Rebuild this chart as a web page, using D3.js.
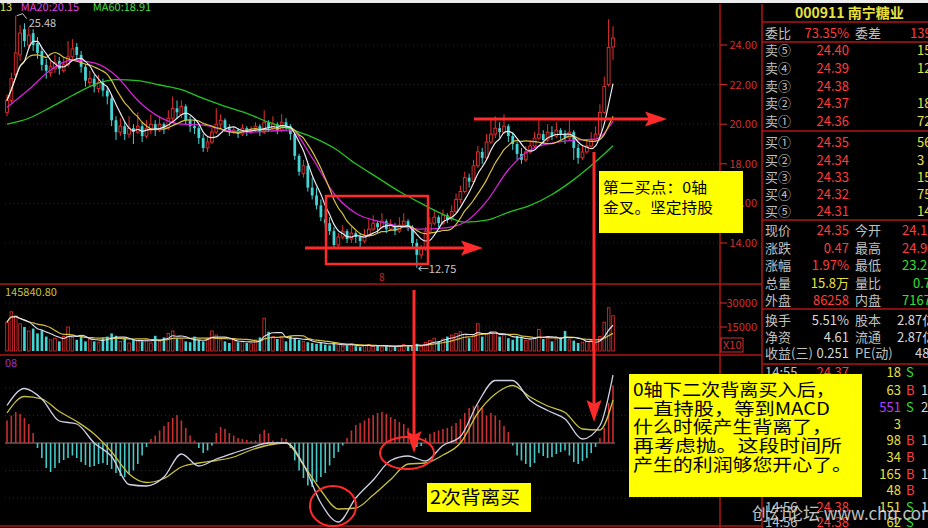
<!DOCTYPE html>
<html><head><meta charset="utf-8">
<script src="https://cdn.jsdelivr.net/npm/d3@7/dist/d3.min.js"></script>
<style>html,body{margin:0;padding:0;background:#000;overflow:hidden}svg{display:block}</style>
</head><body>
<svg id="c" width="928" height="528"></svg>
<script>
// ---------- DATA ----------
const opens=[20.6,21.2,22.5,23.5,24.8,24.0,24.6,24.1,23.7,23.0,
22.6,22.8,23.2,22.7,23.0,23.4,23.9,23.5,22.9,22.1,
22.3,21.8,22.1,21.7,21.3,20.2,19.6,19.9,19.5,19.8,
19.6,19.9,19.4,19.7,20.0,19.7,20.0,19.8,20.3,20.8,
20.5,20.9,20.2,19.9,19.8,19.3,18.8,19.1,19.6,20.0,
20.2,19.8,19.6,19.7,19.5,19.8,19.6,19.7,19.9,19.6,
20.1,19.8,20.0,19.7,20.1,19.9,19.5,18.4,17.5,17.9,
16.8,16.4,15.9,15.2,15.0,14.6,13.9,14.3,14.6,14.2,
14.5,14.3,14.1,14.4,14.7,15.0,14.8,15.1,14.7,14.9,
14.6,14.9,15.1,14.8,14.0,13.4,13.7,14.6,15.0,15.3,
15.0,15.4,15.2,15.6,16.2,16.6,17.3,17.1,17.9,18.6,
18.3,19.1,19.5,19.8,19.6,19.9,19.4,19.0,18.5,18.2,
18.6,18.9,19.3,19.5,19.2,19.6,19.4,19.7,19.5,19.3,
19.6,18.8,18.3,18.6,18.9,19.2,19.5,20.6,22.0,23.9];
const highs=[21.5,22.6,25.48,25.0,25.1,24.9,24.8,24.4,23.9,23.3,
23.2,23.5,23.4,23.4,24.2,24.3,24.1,23.7,23.0,22.7,
22.5,22.5,22.3,21.9,21.5,20.4,20.3,20.1,20.4,20.0,
20.6,20.1,20.2,20.5,20.2,20.4,20.1,20.7,21.4,21.2,
21.2,21.0,20.4,20.3,19.9,19.5,19.4,19.8,20.8,20.5,
20.3,20.0,19.9,19.8,20.0,19.9,19.9,20.1,20.0,20.7,
20.2,20.4,20.1,20.5,20.3,20.0,19.6,18.5,18.2,18.0,
17.3,16.8,16.2,15.7,15.3,14.8,14.5,14.9,14.7,14.8,
14.6,14.5,14.7,15.2,15.4,15.1,15.5,15.2,15.2,15.0,
15.3,15.5,15.2,14.9,14.2,13.9,14.8,15.3,15.7,15.4,
15.7,15.5,15.9,16.5,16.9,17.6,17.5,18.2,18.9,18.8,
19.5,20.3,20.4,20.1,20.5,20.0,19.6,19.1,18.8,18.9,
19.2,19.6,20.2,19.7,20.0,19.9,20.1,19.8,19.7,20.3,
19.7,19.0,18.9,19.2,19.6,19.9,21.0,22.4,25.3,24.95];
const lows=[20.4,21.0,22.3,23.2,23.9,23.8,23.7,23.3,22.7,22.3,
22.4,22.6,22.5,22.6,22.9,23.2,23.2,22.6,21.9,21.9,
21.6,21.6,21.4,21.0,19.9,19.2,19.4,19.2,19.3,19.0,
19.5,19.1,19.3,19.5,19.4,19.6,19.5,19.7,20.1,20.3,
20.3,20.0,19.6,19.5,19.0,18.6,18.6,19.0,19.5,19.8,
19.6,19.4,19.5,19.3,19.4,19.4,19.5,19.6,19.4,19.5,
19.6,19.7,19.5,19.6,19.7,19.2,18.2,17.4,17.3,16.6,
16.2,15.7,15.1,14.8,14.4,13.7,13.7,14.2,14.0,14.0,
14.0,13.8,14.0,14.3,14.6,14.5,14.7,14.5,14.6,14.4,
14.5,14.8,14.6,13.8,12.75,13.2,13.6,14.5,14.9,14.8,
14.9,15.0,15.1,15.5,16.0,16.5,16.8,17.0,17.8,18.0,
18.2,19.0,19.3,19.3,19.5,19.1,18.7,18.2,18.0,18.1,
18.5,18.8,19.2,19.0,19.1,19.2,19.3,19.2,19.0,19.2,
18.2,18.0,18.2,18.5,18.8,19.1,19.4,20.5,21.9,23.25];
const closes=[21.2,22.3,23.6,24.6,24.2,24.5,24.0,23.6,23.0,22.7,
22.9,23.1,22.8,23.0,23.4,23.8,23.5,22.9,22.2,22.3,
21.9,22.1,21.7,21.4,20.2,19.6,19.9,19.5,19.8,19.6,
19.9,19.4,19.8,20.0,19.7,20.0,19.8,20.3,20.8,20.6,
20.9,20.2,19.9,19.8,19.3,18.8,19.1,19.6,20.0,20.2,
19.8,19.6,19.7,19.5,19.8,19.6,19.7,19.9,19.6,20.1,
19.8,20.0,19.7,20.1,19.9,19.5,18.4,17.6,17.9,16.8,
16.4,15.9,15.3,15.0,14.6,13.9,14.3,14.6,14.2,14.5,
14.3,14.1,14.4,14.7,15.0,14.8,15.1,14.7,14.9,14.6,
14.9,15.1,14.8,14.0,13.4,13.7,14.6,15.0,15.3,15.0,
15.4,15.2,15.6,16.2,16.6,17.3,17.1,17.9,18.6,18.3,
19.1,19.5,19.8,19.6,19.9,19.4,19.0,18.5,18.2,18.6,
18.9,19.3,19.5,19.2,19.6,19.4,19.7,19.5,19.3,19.6,
18.8,18.3,18.6,18.9,19.2,19.5,20.6,21.9,23.88,24.35];
const volumes=[18000,24500,22000,17000,15000,12500,14000,11000,13000,9000,
7000,8000,6000,9000,15000,8500,7000,9500,6000,7500,
6000,5500,8000,9000,11000,9500,6000,8000,5000,7000,
6500,6000,7500,5000,9500,6000,8500,11000,12500,8000,
7000,6000,5500,9000,7000,6000,8000,12500,10000,7000,
6000,5000,7500,5500,6000,5000,4500,7000,8500,20500,
12000,9000,7500,8500,6000,9500,8000,7000,6000,5500,
5000,4500,5500,4000,3500,5000,4000,3000,3500,4500,
3000,2500,3500,4000,3000,3500,2500,3000,2800,3200,
3500,4000,3000,3500,4500,3000,5500,6500,8000,6000,
7500,9000,10000,11000,12000,10500,8000,10000,17000,9000,
10500,12000,11000,9000,10000,8000,7000,9500,8000,6500,
7000,8000,13500,7500,9000,6000,7500,8500,12500,7000,
6500,5000,5500,6000,6500,4500,9000,18000,27000,22000];
// MA20 / MA60, every 5th day
const maIdx=[0,5,10,15,20,25,30,35,40,45,50,55,60,65,70,75,80,85,90,95,100,105,110,115,120,125,130,135,139];
const ma20=[20.85,21.75,22.74,23.24,23.1,22.45,21.2,20.36,20.0,19.95,19.7,19.6,19.65,19.7,18.3,16.5,15.5,15.1,14.85,14.7,14.75,15.05,16.1,17.7,18.7,19.05,19.2,19.25,20.15];
const ma60=[20.0,20.3,20.85,21.45,22.0,22.25,22.2,21.98,21.75,21.3,20.9,20.55,20.1,19.75,19.35,18.8,18.0,17.3,16.6,16.0,15.45,15.05,15.15,15.55,15.9,16.45,17.2,18.1,18.91];
// MACD lines read every 4th day
const macdIdx=[0,4,8,12,16,20,24,28,32,36,40,44,48,52,56,60,64,68,72,76,80,84,88,92,96,100,104,108,112,116,120,124,128,132,136,139];
const dif=[0.75,1.09,0.88,0.44,0.38,0.0,-0.27,-0.83,-0.86,-0.68,-0.22,-0.46,-0.32,-0.2,-0.09,0.0,0.0,-0.43,-1.2,-1.58,-1.1,-0.74,-0.35,-0.26,-0.36,-0.05,0.13,0.8,1.25,1.25,0.85,0.65,0.48,0.08,0.35,1.36];
const dea=[0.6,0.93,0.88,0.63,0.43,0.18,-0.18,-0.62,-0.79,-0.71,-0.48,-0.4,-0.35,-0.28,-0.14,-0.04,0.0,-0.44,-0.95,-1.32,-1.3,-1.04,-0.73,-0.42,-0.4,-0.24,0.0,0.6,0.98,1.15,0.92,0.74,0.61,0.28,0.26,0.86];
const hist=[0.45,0.55,0.62,0.58,0.5,0.38,0.2,-0.1,-0.3,-0.5,
-0.58,-0.5,-0.4,-0.34,-0.3,-0.25,-0.3,-0.38,-0.44,-0.48,
-0.46,-0.42,-0.4,-0.44,-0.52,-0.6,-0.66,-0.68,-0.62,-0.55,
-0.42,-0.25,-0.08,0.08,0.15,0.25,0.34,0.42,0.5,0.56,
0.45,0.3,0.15,0.05,-0.1,-0.2,-0.15,-0.05,0.2,0.32,
0.28,0.2,0.15,0.1,0.08,0.06,0.04,0.05,0.18,0.26,
0.2,0.05,0.03,0.1,0.08,-0.1,-0.35,-0.55,-0.7,-0.85,
-0.88,-0.78,-0.68,-0.6,-0.45,-0.3,-0.18,-0.05,0.1,0.25,
0.36,0.4,0.45,0.5,0.56,0.6,0.62,0.58,0.52,0.48,
0.42,0.38,0.3,0.12,-0.08,-0.06,0.1,0.18,0.22,0.25,
0.28,0.3,0.34,0.4,0.48,0.6,0.7,0.74,0.76,0.7,
0.55,0.6,0.55,0.46,0.34,0.22,-0.05,-0.25,-0.35,-0.42,
-0.48,-0.4,-0.2,-0.26,-0.3,-0.28,-0.22,-0.18,-0.15,-0.25,
-0.38,-0.42,-0.36,-0.3,-0.2,-0.08,0.1,0.3,0.8,1.15];
const priceTicks=[24,22,20,18,16,14];
const volTicks=[30000,15000];
const macdGrid=[1.1,0.55,-0.55,-1.1];
const header=[["13","#e0e040"],["MA20:20.15","#e040e0"],["MA60:18.91","#40e040"]];
const stockTitle="000911 南宁糖业";
const sellRows=[["卖⑤","24.40","156"],["卖④","24.39","12"],["卖③","24.38",""],["卖②","24.37","18"],["卖①","24.36","72"]];
const buyRows=[["买①","24.35","563"],["买②","24.34","3"],["买③","24.33","152"],["买④","24.32","758"],["买⑤","24.31","146"]];
const quoteRows=[["现价","24.35","#ff3c3c","今开","24.12","#ff3c3c"],["涨跌","0.47","#ff3c3c","最高","24.95","#ff3c3c"],["涨幅","1.97%","#ff3c3c","最低","23.25","#30e030"],["总量","15.8万","#e8e040","量比","0.78","#30e030"],["外盘","86258","#ff3c3c","内盘","71672","#30e030"]];
const infoRows=[["换手","5.51%","股本","2.87亿"],["净资","4.61","流通","2.87亿"],["收益(三)","0.251","PE(动)","48.5"]];
const ticks=[["14:55","24.37","18","S",""],["14:55","24.37","63","B","1"],["14:55","24.37","551","S","2"],["14:55","24.37","3","",""],["14:55","24.37","98","B","1"],["14:55","24.37","34","B",""],["14:55","24.38","165","B","1"],["14:55","24.38","48","B",""],["14:56","24.38","151","S","1"],["14:56","24.38","62","S",""]];
const noteA=["第二买点：0轴","金叉。坚定持股"];
const noteB=["0轴下二次背离买入后，","一直持股，等到MACD","什么时候产生背离了，","再考虑抛。这段时间所","产生的利润够您开心了。"];
const noteC="2次背离买";

// ---------- DRAW ----------
const svg=d3.select("#c");
const F="'Noto Sans CJK SC','Noto Sans',sans-serif";
const RED="#ff2a2a", BORDER="#b01414", UP="#e83030", DN="#44d4d4";
svg.append("rect").attr("width",928).attr("height",528).attr("fill","#000");

const x=d3.scaleLinear().domain([0,closes.length-1]).range([7,613]);
const yP=d3.scaleLinear().domain([14,24]).range([243,45]);
const yV=d3.scaleLinear().domain([0,30000]).range([351,303]);
const yM=d3.scaleLinear().domain([0,1]).range([443,393]);

// grids
const g=svg.append("g").attr("stroke","#6a0c0c").attr("stroke-dasharray","1,3");
priceTicks.forEach(t=>g.append("line").attr("x1",5).attr("x2",720).attr("y1",yP(t)).attr("y2",yP(t)));
volTicks.forEach(t=>g.append("line").attr("x1",5).attr("x2",720).attr("y1",yV(t)).attr("y2",yV(t)));
macdGrid.forEach(t=>g.append("line").attr("x1",5).attr("x2",720).attr("y1",yM(t)).attr("y2",yM(t)));

// borders
const b=svg.append("g").attr("stroke",BORDER).attr("stroke-width",1.5);
[[0,284,762,284],[0,355,762,355],[0,526,762,526],[720,4,720,528],[762,4,762,528],
 [762,22,928,22],[762,42,928,42],[762,131,928,131],[762,220,928,220],[762,309,928,309],[762,364,928,364]]
 .forEach(l=>b.append("line").attr("x1",l[0]).attr("y1",l[1]).attr("x2",l[2]).attr("y2",l[3]));

// price axis
const ax=svg.append("g").attr("font-family",F).attr("font-size",11).attr("fill","#d03030");
priceTicks.forEach(t=>{
  ax.append("line").attr("x1",720).attr("x2",727).attr("y1",yP(t)).attr("y2",yP(t)).attr("stroke","#d03030");
  ax.append("text").attr("x",757).attr("y",yP(t)+4).attr("text-anchor","end").text(d3.format(".2f")(t));
});
volTicks.forEach(t=>{
  ax.append("line").attr("x1",720).attr("x2",727).attr("y1",yV(t)).attr("y2",yV(t)).attr("stroke","#d03030");
  ax.append("text").attr("x",757).attr("y",yV(t)+4).attr("text-anchor","end").text(t);
});
ax.append("rect").attr("x",721).attr("y",338).attr("width",22).attr("height",14).attr("fill","none").attr("stroke","#d03030");
ax.append("text").attr("x",723).attr("y",349).text("X10");

// candles
const cg=svg.append("g");
closes.forEach((c,i)=>{
  const o=opens[i], up=c>=o, col=up?UP:DN;
  cg.append("line").attr("x1",x(i)).attr("x2",x(i)).attr("y1",yP(highs[i])).attr("y2",yP(lows[i])).attr("stroke",col).attr("stroke-width",1);
  const y1=yP(Math.max(o,c)), h=Math.max(1,Math.abs(yP(o)-yP(c)));
  cg.append("rect").attr("x",x(i)-1.4).attr("y",y1).attr("width",2.8).attr("height",h)
    .attr("fill",up?"#000":col).attr("stroke",col).attr("stroke-width",up?0.9:0);
});
function mavg(a,n){return a.map((d,i)=>d3.mean(a.slice(Math.max(0,i-n+1),i+1)));}
const lineI=(s)=>d3.line().x((d,i)=>x(i)).y(d=>s(d));
const ma5=mavg(closes,5), ma10=mavg(closes,10);
const sampled=(idx,vals,s)=>d3.line().curve(d3.curveMonotoneX).x(d=>x(d[0])).y(d=>s(d[1]))(idx.map((k,j)=>[k,vals[j]]));
svg.append("path").attr("d",sampled(maIdx,ma60,yP)).attr("fill","none").attr("stroke","#22c422").attr("stroke-width",1.3);
svg.append("path").attr("d",sampled(maIdx,ma20,yP)).attr("fill","none").attr("stroke","#d424d4").attr("stroke-width",1.3);
svg.append("path").attr("d",lineI(yP).curve(d3.curveMonotoneX)(ma10)).attr("fill","none").attr("stroke","#d8c040").attr("stroke-width",1.2);
svg.append("path").attr("d",lineI(yP).curve(d3.curveMonotoneX)(ma5)).attr("fill","none").attr("stroke","#e8e8f0").attr("stroke-width",1.2);

// volume
const vg=svg.append("g");
volumes.forEach((v,i)=>{
  const up=closes[i]>=opens[i], col=up?UP:DN;
  vg.append("rect").attr("x",x(i)-1.3).attr("y",yV(v)).attr("width",2.6).attr("height",yV(0)-yV(v))
    .attr("fill",up?"#000":col).attr("stroke",col).attr("stroke-width",up?0.8:0);
});
svg.append("path").attr("d",lineI(yV).curve(d3.curveMonotoneX)(mavg(volumes,10))).attr("fill","none").attr("stroke","#d8c040").attr("stroke-width",1.2);
svg.append("path").attr("d",lineI(yV).curve(d3.curveMonotoneX)(mavg(volumes,5))).attr("fill","none").attr("stroke","#e0e0f0").attr("stroke-width",1.1);

// MACD
svg.append("line").attr("x1",5).attr("x2",615).attr("y1",yM(0)).attr("y2",yM(0)).attr("stroke","#8a8a8a").attr("stroke-width",1);
const mg=svg.append("g");
hist.forEach((v,i)=>{
  mg.append("line").attr("x1",x(i)).attr("x2",x(i)).attr("y1",yM(0)).attr("y2",yM(v))
    .attr("stroke",v>=0?"#c83030":"#44c8c8").attr("stroke-width",1.6);
});
svg.append("path").attr("d",sampled(macdIdx,dea,yM)).attr("fill","none").attr("stroke","#c8c040").attr("stroke-width",1.3);
svg.append("path").attr("d",sampled(macdIdx,dif,yM)).attr("fill","none").attr("stroke","#d0d0e4").attr("stroke-width",1.3);

// small chart texts
const tg=svg.append("g").attr("font-family",F).attr("font-size",11);
let hx=0;
header.forEach(h=>{tg.append("text").attr("x",hx).attr("y",11).attr("fill",h[1]).text(h[0]);hx+= h[0].length*6.4+8;});
tg.append("text").attr("x",5).attr("y",296).attr("fill","#c8c040").text("145840.80");
tg.append("text").attr("x",5).attr("y",367).attr("fill","#a030c0").text("08");
const hiI=highs.indexOf(d3.max(highs)), loI=lows.indexOf(d3.min(lows));
svg.append("path").attr("d",`M${x(hiI)+1},${yP(highs[hiI])} L${x(hiI)+7},${yP(highs[hiI])-2} L${x(hiI)+11},${yP(highs[hiI])+3}`).attr("fill","none").attr("stroke","#c8c8c8");
tg.append("text").attr("x",x(hiI)+13).attr("y",yP(highs[hiI])+11).attr("fill","#c8c8c8").text(d3.format(".2f")(highs[hiI]));
tg.append("text").attr("x",x(loI)+1).attr("y",yP(lows[loI])+5).attr("fill","#c8c8c8").text("←"+d3.format(".2f")(lows[loI]));
tg.append("text").attr("x",379).attr("y",281).attr("fill","#d02020").attr("font-size",10).text("8");
svg.append("rect").attr("x",0).attr("y",0).attr("width",928).attr("height",3).attr("fill","#ececec");

// right panel
const rp=svg.append("g").attr("font-family",F).attr("font-size",13);
const T=(xx,yy,s,col,anchor)=>rp.append("text").attr("x",xx).attr("y",yy+5).attr("fill",col).attr("text-anchor",anchor||"start").text(s);
rp.append("text").attr("x",795).attr("y",18).attr("fill","#e8e040").attr("font-size",14).attr("font-weight","bold").text(stockTitle);
T(765,33,"委比","#c0c0c0");T(849,33,"73.35%","#ff3c3c","end");T(855,33,"委差","#c0c0c0");T(910,33,"139","#ff3c3c");
[50,68,85.5,103,120.5].forEach((yy,k)=>{const r=sellRows[k];T(765,yy,r[0],"#c0c0c0");T(849,yy,r[1],"#ff3c3c","end");T(917,yy,r[2],"#e8e040");});
[142,159.5,177,194,211].forEach((yy,k)=>{const r=buyRows[k];T(765,yy,r[0],"#c0c0c0");T(849,yy,r[1],"#ff3c3c","end");T(917,yy,r[2],"#e8e040");});
[230,248,265,283,300].forEach((yy,k)=>{const r=quoteRows[k];T(765,yy,r[0],"#c0c0c0");T(849,yy,r[1],r[2],"end");T(855,yy,r[3],"#c0c0c0");T(k===3?913:902,yy,r[4],r[5]);});
[320,337,353].forEach((yy,k)=>{const r=infoRows[k];T(765,yy,r[0],"#c0c0c0");T(849,yy,r[1],"#d8d8d8","end");T(855,yy,r[2],"#c0c0c0");T(k===2?915:897,yy,r[3],"#d8d8d8");});
// trade ticks; the time/price columns of rows hidden under the note box are not drawn
[372,390,407,424,440,457,474,490,507,522].forEach((yy,k)=>{const r=ticks[k];
  const hidden = yy>380 && yy<500;
  if(!hidden){T(765,yy,r[0],"#c0c0c0");T(849,yy,r[1],"#ff3c3c","end");}
  T(901,yy,r[2],r[2]==="551"?"#b040ff":"#e8e040","end");
  T(906,yy,r[3],r[3]==="S"?"#30e030":"#ff3c3c");T(921,yy,r[4],"#d8d8d8");});

// annotations
const an=svg.append("g");
function hArrow(x1,x2,y){an.append("line").attr("x1",x1).attr("x2",x2-16).attr("y1",y).attr("y2",y).attr("stroke",RED).attr("stroke-width",3);
  an.append("path").attr("d",`M${x2},${y} L${x2-22},${y-7.5} L${x2-18},${y} L${x2-22},${y+7.5} Z`).attr("fill",RED);}
function vArrow(xx,y1,y2){an.append("line").attr("x1",xx).attr("x2",xx).attr("y1",y1).attr("y2",y2-16).attr("stroke",RED).attr("stroke-width",3);
  an.append("path").attr("d",`M${xx},${y2} L${xx-7.5},${y2-22} L${xx},${y2-18} L${xx+7.5},${y2-22} Z`).attr("fill",RED);}
an.append("rect").attr("x",326).attr("y",196).attr("width",102).attr("height",68).attr("fill","none").attr("stroke",RED).attr("stroke-width",2.5);
hArrow(305,483,248);
hArrow(474,667,119);
vArrow(414,290,453);
vArrow(594,152,422);
an.append("ellipse").attr("cx",333).attr("cy",506).attr("rx",23).attr("ry",20).attr("fill","none").attr("stroke",RED).attr("stroke-width",2);
an.append("ellipse").attr("cx",407).attr("cy",453).attr("rx",27).attr("ry",16).attr("fill","none").attr("stroke",RED).attr("stroke-width",2);

function box(x0,y0,w,h){an.append("rect").attr("x",x0).attr("y",y0).attr("width",w).attr("height",h).attr("fill","#ffff00");}
function boxText(s,xx,yy,size,len){an.append("text").attr("x",xx).attr("y",yy).attr("font-family",F).attr("font-size",size).attr("fill","#000")
  .attr("textLength",len).attr("lengthAdjust","spacingAndGlyphs").text(s);}
box(599,171,144,62);
boxText(noteA[0],603,193,15,104);
boxText(noteA[1],603,213,15,110);
box(629,374,233,123);
const bLens=[202,197,199,209,219];
noteB.forEach((s,k)=>boxText(s,633,396+k*18.7,17,bLens[k]));
box(427,483,104,29);
boxText(noteC,430,504,18,90);

// watermark
svg.append("text").attr("x",752).attr("y",520).attr("font-family",F).attr("font-size",17).attr("fill","#e0e0e0").attr("opacity",0.85).text("创幻论坛 www.chq.com");
</script>
</body></html>
